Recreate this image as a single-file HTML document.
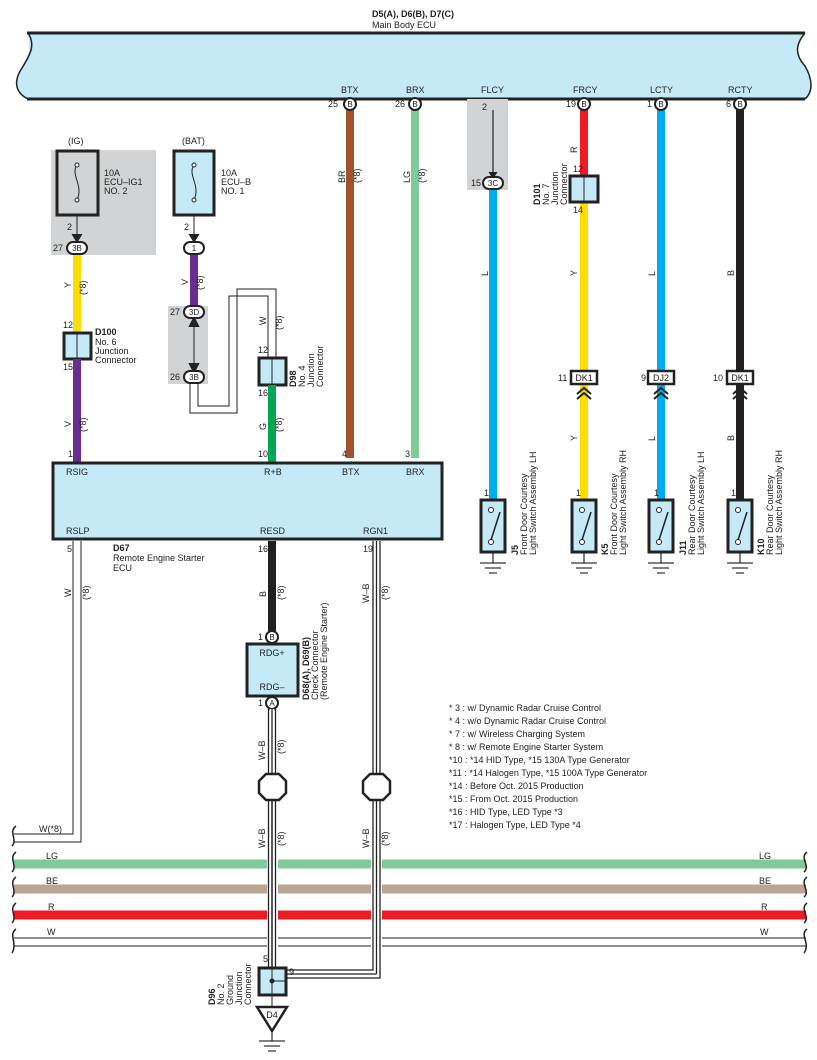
<!DOCTYPE html>
<html><head><meta charset="utf-8"><style>
html,body{margin:0;padding:0;background:#fff;}
svg{display:block;font-family:"Liberation Sans",sans-serif;}
text{font-size:9px;fill:#222;}
.b{font-weight:bold;}
</style></head><body>
<svg width="817" height="1060" viewBox="0 0 817 1060" xmlns="http://www.w3.org/2000/svg">
<defs>
<g id="gnd"><line x1="0" y1="0" x2="0" y2="10" stroke="#000" stroke-width="1"/><line x1="-13" y1="10" x2="13" y2="10" stroke="#000"/><line x1="-8" y1="15" x2="8" y2="15" stroke="#000"/><line x1="-4" y1="20" x2="4" y2="20" stroke="#000"/></g>
<g id="sw"><rect x="-12" y="0" width="24" height="52" fill="#c6e9f8" stroke="#222" stroke-width="3"/><circle cx="-2" cy="10" r="2.5" fill="#fff" stroke="#222"/><circle cx="-2" cy="42" r="2.5" fill="#fff" stroke="#222"/><line x1="-2" y1="40" x2="7" y2="12" stroke="#222" stroke-width="1.5"/></g>
<g id="chev"><path d="M-7 6 L0 0 L7 6 M-7 11 L0 5 L7 11" fill="none" stroke="#222" stroke-width="2"/></g>
</defs>

<!-- Main Body ECU -->
<text x="372" y="17" class="b">D5(A), D6(B), D7(C)</text>
<text x="372" y="28">Main Body ECU</text>
<path d="M28 33 L805 33 C795 45 795 55 805 66 C813 80 813 92 805 99 L28 99 C14 92 14 80 22 68 C30 55 30 45 28 33 Z" fill="#c6e9f8"/>
<line x1="27" y1="33" x2="805" y2="33" stroke="#222" stroke-width="3"/>
<line x1="27" y1="99" x2="805" y2="99" stroke="#222" stroke-width="3"/>
<path d="M28 33 C36 45 30 55 22 68 C14 80 14 92 28 99" fill="none" stroke="#222" stroke-width="1.5"/>
<path d="M805 33 C795 45 795 55 805 66 C813 80 813 92 805 99" fill="none" stroke="#222" stroke-width="1.5"/>
<text x="341" y="93">BTX</text><text x="406" y="93">BRX</text><text x="481" y="93">FLCY</text><text x="573" y="93">FRCY</text><text x="650" y="93">LCTY</text><text x="728" y="93">RCTY</text>

<!-- FLCY gray -->
<rect x="467" y="99" width="41" height="91" fill="#d1d3d4"/>

<!-- vertical wires from ECU -->
<line x1="350" y1="110" x2="350" y2="458" stroke="#a0522d" stroke-width="8"/>
<line x1="415" y1="110" x2="415" y2="458" stroke="#80c99a" stroke-width="8"/>
<line x1="493" y1="110" x2="493" y2="177" stroke="#000" stroke-width="1"/>
<line x1="493" y1="189" x2="493" y2="499" stroke="#00aeef" stroke-width="8"/>
<line x1="584" y1="110" x2="584" y2="176" stroke="#ed1c24" stroke-width="8"/>
<line x1="584" y1="202" x2="584" y2="372" stroke="#ffdd00" stroke-width="8"/>
<line x1="584" y1="384" x2="584" y2="499" stroke="#ffdd00" stroke-width="8"/>
<line x1="661" y1="110" x2="661" y2="372" stroke="#00aeef" stroke-width="8"/>
<line x1="661" y1="384" x2="661" y2="499" stroke="#00aeef" stroke-width="8"/>
<line x1="740" y1="110" x2="740" y2="372" stroke="#231f20" stroke-width="8"/>
<line x1="740" y1="384" x2="740" y2="499" stroke="#231f20" stroke-width="8"/>

<!-- B circles -->
<g stroke="#222" stroke-width="2" fill="#fff">
<circle cx="350" cy="104" r="6"/><circle cx="415" cy="104" r="6"/><circle cx="584" cy="104" r="6"/><circle cx="661" cy="104" r="6"/><circle cx="740" cy="104" r="6"/>
</g>
<g text-anchor="middle">
<text x="350" y="107" style="font-size:8px">B</text><text x="415" y="107" style="font-size:8px">B</text><text x="584" y="107" style="font-size:8px">B</text><text x="661" y="107" style="font-size:8px">B</text><text x="740" y="107" style="font-size:8px">B</text>
</g>
<text x="328" y="107">25</text><text x="395" y="107">26</text><text x="482" y="110">2</text><text x="566" y="107">19</text><text x="647" y="107">1</text><text x="726" y="107">6</text>

<!-- 3C -->
<path d="M489 172 L493 178 L497 172" fill="#222" stroke="#222"/>
<rect x="483" y="177" width="20" height="12" rx="6" fill="#fff" stroke="#222" stroke-width="2"/>
<text x="493" y="186" text-anchor="middle" style="font-size:8px">3C</text>
<text x="471" y="186">15</text>

<!-- D101 -->
<rect x="570" y="176" width="28" height="26" fill="#c6e9f8" stroke="#222" stroke-width="3"/>
<line x1="584" y1="176" x2="584" y2="202" stroke="#222"/>
<text x="573" y="172">12</text><text x="573" y="213">14</text>
<g transform="translate(540,205) rotate(-90)"><text x="0" y="0" class="b">D101</text><text x="0" y="9">No. 7</text><text x="0" y="18">Junction</text><text x="0" y="27">Connector</text></g>
<text transform="translate(577,153) rotate(-90)">R</text>

<!-- wire labels rotated -->
<text transform="translate(345,183) rotate(-90)">BR</text><text transform="translate(360,183) rotate(-90)">(*8)</text>
<text transform="translate(410,183) rotate(-90)">LG</text><text transform="translate(425,183) rotate(-90)">(*8)</text>
<text transform="translate(488,276) rotate(-90)">L</text>
<text transform="translate(577,276) rotate(-90)">Y</text>
<text transform="translate(655,276) rotate(-90)">L</text>
<text transform="translate(734,276) rotate(-90)">B</text>

<!-- DK boxes -->
<g stroke="#222" stroke-width="2.5" fill="#fff">
<rect x="571" y="371" width="26" height="13"/><rect x="648" y="371" width="26" height="13"/><rect x="727" y="371" width="26" height="13"/>
</g>
<text x="584" y="381" text-anchor="middle">DK1</text><text x="661" y="381" text-anchor="middle">DJ2</text><text x="740" y="381" text-anchor="middle">DK1</text>
<text x="558" y="381">11</text><text x="641" y="381">9</text><text x="713" y="381">10</text>
<use href="#chev" x="584" y="388"/><use href="#chev" x="661" y="388"/><use href="#chev" x="740" y="388"/>
<text transform="translate(577,441) rotate(-90)">Y</text>
<text transform="translate(655,441) rotate(-90)">L</text>
<text transform="translate(734,441) rotate(-90)">B</text>

<!-- switches -->
<text x="484" y="496">1</text><text x="576" y="496">1</text><text x="654" y="496">1</text><text x="731" y="496">1</text>
<use href="#sw" x="493" y="500"/><use href="#sw" x="584" y="500"/><use href="#sw" x="661" y="500"/><use href="#sw" x="740" y="500"/>
<use href="#gnd" x="493" y="553"/><use href="#gnd" x="584" y="553"/><use href="#gnd" x="661" y="553"/><use href="#gnd" x="740" y="553"/>
<g transform="translate(518,555) rotate(-90)"><text x="0" y="0" class="b">J5</text><text x="0" y="9">Front Door Courtesy</text><text x="0" y="18">Light Switch Assembly LH</text></g>
<g transform="translate(608,555) rotate(-90)"><text x="0" y="0" class="b">K5</text><text x="0" y="9">Front Door Courtesy</text><text x="0" y="18">Light Switch Assembly RH</text></g>
<g transform="translate(686,555) rotate(-90)"><text x="0" y="0" class="b">J11</text><text x="0" y="9">Rear Door Courtesy</text><text x="0" y="18">Light Switch Assembly LH</text></g>
<g transform="translate(764,555) rotate(-90)"><text x="0" y="0" class="b">K10</text><text x="0" y="9">Rear Door Courtesy</text><text x="0" y="18">Light Switch Assembly RH</text></g>

<!-- IG fuse -->
<text x="68" y="144">(IG)</text>
<rect x="51" y="150" width="105" height="105" fill="#d1d3d4"/>
<rect x="57" y="151" width="41" height="64" fill="#d1d3d4" stroke="#222" stroke-width="3"/>
<path d="M77 165 C70 175 84 185 77 200" fill="none" stroke="#222"/><circle cx="77" cy="165" r="2" fill="#fff" stroke="#222"/><circle cx="77" cy="200" r="2" fill="#fff" stroke="#222"/>
<line x1="77" y1="215" x2="77" y2="240" stroke="#222"/>
<path d="M72 234 L77 242 L82 234" fill="#222" stroke="#222"/>
<text x="104" y="176">10A</text><text x="104" y="185">ECU–IG1</text><text x="104" y="194">NO. 2</text>
<text x="67" y="230">2</text>
<line x1="77" y1="254" x2="77" y2="332" stroke="#ffdd00" stroke-width="8"/>
<rect x="67" y="242" width="20" height="12" rx="6" fill="#fff" stroke="#222" stroke-width="2"/>
<text x="77" y="251" text-anchor="middle" style="font-size:8px">3B</text>
<text x="53" y="251">27</text>
<text transform="translate(71,288) rotate(-90)">Y</text><text transform="translate(86,295) rotate(-90)">(*8)</text>
<rect x="64" y="333" width="27" height="26" fill="#c6e9f8" stroke="#222" stroke-width="3"/>
<line x1="77" y1="333" x2="77" y2="359" stroke="#222"/>
<text x="63" y="328">12</text><text x="63" y="370">15</text>
<text x="95" y="335" class="b">D100</text><text x="95" y="345">No.  6</text><text x="95" y="354">Junction</text><text x="95" y="363">Connector</text>
<line x1="77" y1="359" x2="77" y2="462" stroke="#6a2c91" stroke-width="8"/>
<text transform="translate(71,427) rotate(-90)">V</text><text transform="translate(86,432) rotate(-90)">(*8)</text>
<text x="68" y="457">1</text>

<!-- BAT fuse -->
<text x="182" y="144">(BAT)</text>
<rect x="174" y="151" width="40" height="64" fill="#c6e9f8" stroke="#222" stroke-width="3"/>
<path d="M194 165 C187 175 201 185 194 200" fill="none" stroke="#222"/><circle cx="194" cy="165" r="2" fill="#fff" stroke="#222"/><circle cx="194" cy="200" r="2" fill="#fff" stroke="#222"/>
<line x1="194" y1="215" x2="194" y2="240" stroke="#222"/>
<path d="M189 234 L194 242 L199 234" fill="#222" stroke="#222"/>
<text x="221" y="176">10A</text><text x="221" y="185">ECU–B</text><text x="221" y="194">NO. 1</text>
<text x="184" y="230">2</text>
<line x1="194" y1="254" x2="194" y2="306" stroke="#6a2c91" stroke-width="8"/>
<rect x="184" y="242" width="20" height="12" rx="6" fill="#fff" stroke="#222" stroke-width="2"/>
<text x="194" y="251" text-anchor="middle" style="font-size:8px">1</text>
<text transform="translate(188,285) rotate(-90)">V</text><text transform="translate(203,290) rotate(-90)">(*8)</text>
<rect x="168" y="306" width="40" height="78" fill="#d1d3d4"/>
<line x1="194" y1="318" x2="194" y2="372" stroke="#222"/>
<path d="M190 326 L194 318 L198 326 Z M190 364 L194 372 L198 364 Z" fill="#222" stroke="#222" stroke-width="2"/>
<rect x="184" y="306" width="20" height="12" rx="6" fill="#fff" stroke="#222" stroke-width="2"/>
<text x="194" y="315" text-anchor="middle" style="font-size:8px">3D</text>
<rect x="184" y="371" width="20" height="12" rx="6" fill="#fff" stroke="#222" stroke-width="2"/>
<text x="194" y="380" text-anchor="middle" style="font-size:8px">3B</text>
<text x="170" y="315">27</text><text x="170" y="380">26</text>
<!-- W wire -->
<path d="M190 383 L190 413 L237 413 L237 289 L276 289 L276 357" fill="none" stroke="#222"/>
<path d="M198 383 L198 406 L229 406 L229 296 L268 296 L268 357" fill="none" stroke="#222"/>
<text transform="translate(266,325) rotate(-90)">W</text><text transform="translate(282,330) rotate(-90)">(*8)</text>
<rect x="259" y="358" width="27" height="27" fill="#c6e9f8" stroke="#222" stroke-width="3"/>
<line x1="272" y1="358" x2="272" y2="385" stroke="#222"/>
<text x="258" y="353">12</text><text x="258" y="396">16</text>
<g transform="translate(296,387) rotate(-90)"><text x="0" y="0" class="b">D98</text><text x="0" y="9">No.  4</text><text x="0" y="18">Junction</text><text x="0" y="27">Connector</text></g>
<line x1="272" y1="385" x2="272" y2="462" stroke="#00a651" stroke-width="8"/>
<text transform="translate(266,430) rotate(-90)">G</text><text transform="translate(282,432) rotate(-90)">(*8)</text>
<text x="258" y="457">10</text><text x="342" y="457">4</text><text x="405" y="457">3</text>

<!-- D67 -->
<rect x="53" y="463" width="389" height="76" fill="#c6e9f8" stroke="#222" stroke-width="3"/>
<text x="66" y="475">RSIG</text><text x="264" y="475">R+B</text><text x="342" y="475">BTX</text><text x="406" y="475">BRX</text>
<text x="66" y="534">RSLP</text><text x="260" y="534">RESD</text><text x="363" y="534">RGN1</text>
<text x="67" y="552">5</text><text x="258" y="552">16</text><text x="363" y="552">19</text>
<text x="113" y="551" class="b">D67</text><text x="113" y="561">Remote Engine Starter</text><text x="113" y="571">ECU</text>

<!-- RSLP W -->
<path d="M73 541 L73 834 L14 834" fill="none" stroke="#222"/>
<path d="M81 541 L81 842 L14 842" fill="none" stroke="#222"/>
<text transform="translate(71,597) rotate(-90)">W</text><text transform="translate(89,600) rotate(-90)">(*8)</text>
<text x="39" y="832">W(*8)</text>

<!-- RESD -->
<line x1="272" y1="541" x2="272" y2="631" stroke="#231f20" stroke-width="8"/>
<text transform="translate(266,597) rotate(-90)">B</text><text transform="translate(284,600) rotate(-90)">(*8)</text>
<circle cx="272" cy="637" r="6" fill="#fff" stroke="#222" stroke-width="2"/><text x="272" y="640" text-anchor="middle" style="font-size:8px">B</text>
<text x="258" y="640">1</text>
<rect x="247" y="644" width="51" height="52" fill="#c6e9f8" stroke="#222" stroke-width="3"/>
<text x="272" y="656" text-anchor="middle">RDG+</text><text x="272" y="690" text-anchor="middle">RDG–</text>
<g transform="translate(309,700) rotate(-90)"><text x="0" y="0" class="b">D68(A), D69(B)</text><text x="0" y="9">Check Connector</text><text x="0" y="18">(Remote Engine Starter)</text></g>
<circle cx="272" cy="703" r="6" fill="#fff" stroke="#222" stroke-width="2"/><text x="272" y="706" text-anchor="middle" style="font-size:8px">A</text>
<text x="258" y="706">1</text>

<!-- W-B double wires -->
<g fill="none" stroke="#222" stroke-width="1.3">
<path d="M268.5 709 L268.5 968 M275.5 709 L275.5 968"/>
<path d="M373 541 L373 970 L286 970 M380 541 L380 978 L286 978"/>
</g>
<line x1="272" y1="709" x2="272" y2="968" stroke="#fff" stroke-width="4"/>
<line x1="376.5" y1="541" x2="376.5" y2="974" stroke="#fff" stroke-width="4"/>
<line x1="286" y1="974" x2="376.5" y2="974" stroke="#fff" stroke-width="4"/>
<line x1="272" y1="709" x2="272" y2="968" stroke="#222" stroke-width="1.3"/>
<line x1="376.5" y1="541" x2="376.5" y2="974" stroke="#222" stroke-width="1.3"/>
<line x1="286" y1="974" x2="376.5" y2="974" stroke="#222" stroke-width="1.3"/>
<text transform="translate(265,760) rotate(-90)">W–B</text><text transform="translate(284,754) rotate(-90)">(*8)</text>
<text transform="translate(369,603) rotate(-90)">W–B</text><text transform="translate(388,600) rotate(-90)">(*8)</text>
<text transform="translate(265,848) rotate(-90)">W–B</text><text transform="translate(284,846) rotate(-90)">(*8)</text>
<text transform="translate(369,848) rotate(-90)">W–B</text><text transform="translate(388,846) rotate(-90)">(*8)</text>
<path d="M266 774 L279 774 L286 781 L286 793 L279 800 L266 800 L259 793 L259 781 Z" fill="#fff" stroke="#222" stroke-width="2.5"/>
<path d="M370 774 L383 774 L390 781 L390 793 L383 800 L370 800 L363 793 L363 781 Z" fill="#fff" stroke="#222" stroke-width="2.5"/>
<line x1="272" y1="800" x2="272" y2="968" stroke="#222" stroke-width="1.3"/>

<!-- bus lines -->
<g stroke-width="9">
<path d="M14 864 H267 M278 864 H371 M382 864 H806" stroke="#80c99a"/>
<path d="M14 889 H267 M278 889 H371 M382 889 H806" stroke="#bba592"/>
<path d="M14 915 H267 M278 915 H371 M382 915 H806" stroke="#ed1c24"/>
</g>
<path d="M14 938 H267 M278 938 H371 M382 938 H806 M14 946 H267 M278 946 H371 M382 946 H806" stroke="#222" stroke-width="1"/>
<text x="46" y="859">LG</text><text x="46" y="884">BE</text><text x="48" y="910">R</text><text x="47" y="935">W</text>
<text x="759" y="859">LG</text><text x="759" y="884">BE</text><text x="761" y="910">R</text><text x="760" y="935">W</text>
<g fill="none" stroke="#222" stroke-width="1.5">
<path d="M16 826 C8 832 18 840 12 846 M16 852 C8 858 18 866 12 872 M16 877 C8 883 18 891 12 897 M16 903 C8 909 18 917 12 923 M16 929 C8 935 18 943 12 953"/>
<path d="M807 852 C799 858 811 866 804 872 M807 877 C799 883 811 891 804 897 M807 903 C799 909 811 917 804 923 M807 929 C799 935 811 943 804 953"/>
</g>

<!-- D96 -->
<rect x="259" y="968" width="27" height="27" fill="#c6e9f8" stroke="#222" stroke-width="3"/>
<line x1="272" y1="968" x2="272" y2="995" stroke="#222"/><line x1="272" y1="981" x2="286" y2="981" stroke="#222"/>
<circle cx="272" cy="981" r="2.5" fill="#222"/>
<text x="263" y="962">5</text><text x="289" y="975">9</text>
<g transform="translate(215,1005) rotate(-90)"><text x="0" y="0" class="b">D96</text><text x="0" y="9">No.  2</text><text x="0" y="18">Ground</text><text x="0" y="27">Junction</text><text x="0" y="36">Connector</text></g>
<line x1="272" y1="995" x2="272" y2="1007" stroke="#222"/>
<path d="M257 1007 L287 1007 L272 1031 Z" fill="#fff" stroke="#222" stroke-width="2.5"/>
<text x="272" y="1018" text-anchor="middle">D4</text>
<use href="#gnd" x="272" y="1031"/>

<!-- notes -->
<g>
<text x="449" y="711">* 3 : w/ Dynamic Radar Cruise Control</text>
<text x="449" y="724">* 4 : w/o Dynamic Radar Cruise Control</text>
<text x="449" y="737">* 7 : w/ Wireless Charging System</text>
<text x="449" y="750">* 8 : w/ Remote Engine Starter System</text>
<text x="449" y="763">*10 : *14 HID Type,  *15 130A Type Generator</text>
<text x="449" y="776">*11 : *14 Halogen Type,  *15 100A Type Generator</text>
<text x="449" y="789">*14 : Before Oct.  2015 Production</text>
<text x="449" y="802">*15 : From Oct.  2015 Production</text>
<text x="449" y="815">*16 : HID Type,  LED Type *3</text>
<text x="449" y="828">*17 : Halogen Type,  LED Type *4</text>
</g>
</svg>
</body></html>
